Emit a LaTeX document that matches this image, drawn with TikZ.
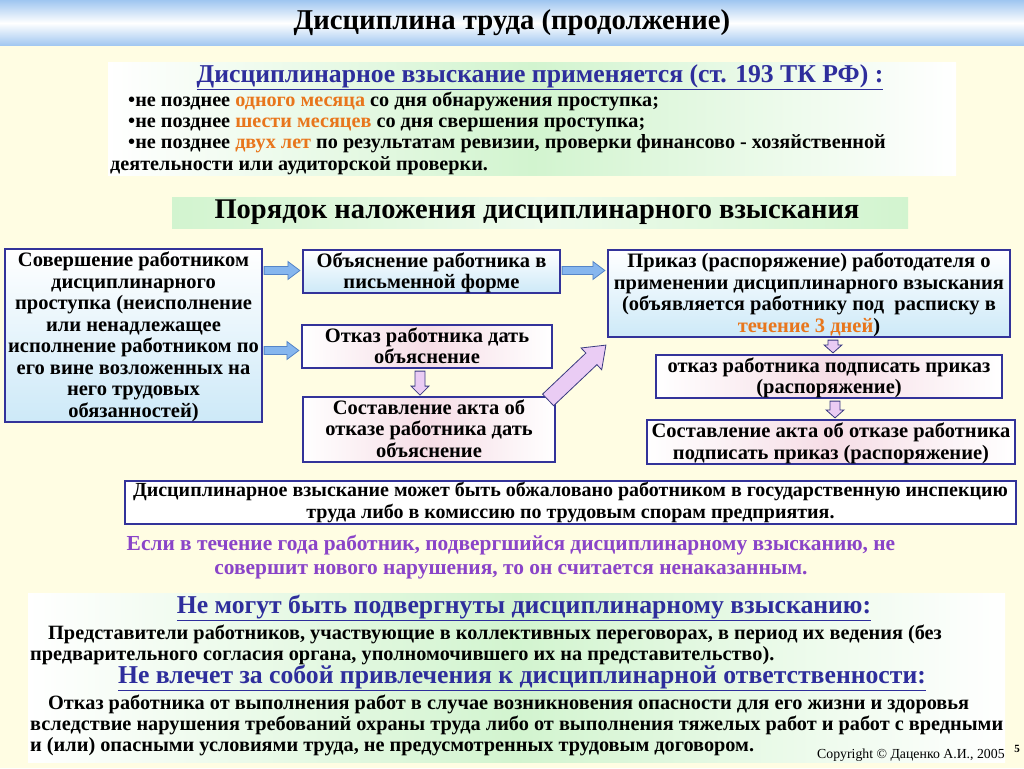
\documentclass[tikz,border=0pt]{standalone}
\usepackage{fontspec}
\setmainfont{Liberation Serif}
\usetikzlibrary{calc}
\definecolor{bg}{HTML}{FFFDE3}
\definecolor{titleblue}{HTML}{9FC6F0}
\definecolor{boxblue}{HTML}{33339A}
\definecolor{lightblue}{HTML}{CDE9F8}
\definecolor{lightpink}{HTML}{F6DDE6}
\definecolor{lightgreen}{HTML}{D2F4CF}
\definecolor{headblue}{HTML}{2E2E9C}
\definecolor{orangetxt}{HTML}{E8761C}
\definecolor{purpletxt}{HTML}{8A44C8}
\definecolor{arrowblue}{HTML}{86B6EE}
\definecolor{arrowblueline}{HTML}{5585C8}
\definecolor{lavender}{HTML}{EACCF4}
\definecolor{lavline}{HTML}{3A3A80}
\newcommand\fsz[2]{\fontsize{#1}{#2}\selectfont}
\newcommand\blockarr[6]{%
  \coordinate (ba@h) at ($(#3)!#6!(#2)$);
  \draw[#1] ($(#2)!#4!90:(#3)$) -- ($(ba@h)!#4!90:(#3)$) -- ($(ba@h)!#5!90:(#3)$) -- (#3)
    -- ($(ba@h)!#5!-90:(#3)$) -- ($(ba@h)!#4!-90:(#3)$) -- ($(#2)!#4!-90:(#3)$) -- cycle;}
\tikzset{
  bluebox/.style={draw=boxblue, line width=2.2pt, top color=white, bottom color=lightblue,
    align=center, inner sep=0pt, text depth=2pt, font=\bfseries\fsz{20.5}{21.5}},
  pinkbox/.style={draw=boxblue, line width=2.2pt, left color=white, right color=white, middle color=lightpink,
    align=center, inner sep=0pt, text depth=2pt, font=\bfseries\fsz{20.5}{21.5}},
  whitebox/.style={draw=boxblue, line width=2.2pt, fill=white,
    align=center, inner sep=0pt, font=\bfseries\fsz{20}{22}},
  barrow/.style={fill=arrowblue, draw=arrowblueline, line width=0.8pt},
  larrow/.style={fill=lavender, draw=lavline, line width=0.8pt},
  bodytxt/.style={inner sep=0pt, anchor=base west, font=\bfseries\fsz{20.2}{21}},
  bottxt/.style={inner sep=0pt, anchor=base west, font=\bfseries\fsz{20.3}{21}},
  headtxt/.style={inner sep=0pt, text=headblue, font=\bfseries\fsz{25.7}{27}},
  greenpanel/.style={left color=white, right color=white, middle color=lightgreen},
}
\begin{document}
\begin{tikzpicture}[x=1pt,y=-1pt]
\useasboundingbox (0,0) rectangle (1024,768);
\fill[bg] (0,0) rectangle (1024,768);
% title bar
\shade[top color=titleblue, bottom color=titleblue, middle color=white] (0,0) rectangle (1024,46);
\node[inner sep=0pt, font=\bfseries\fsz{28.7}{30}] (title) at (512,23) {Дисциплина труда (продолжение)};
% top panel
\shade[greenpanel] (108,62) rectangle (956,175);
\node[headtxt] (h1) at (540,77) {\underline{Дисциплинарное взыскание применяется (ст. 193 ТК РФ) :}};
\node[bodytxt] (b1) at (128,106) {•не позднее \textcolor{orangetxt}{одного месяца} со дня обнаружения проступка;};
\node[bodytxt] (b2) at (128,127) {•не позднее \textcolor{orangetxt}{шести месяцев} со дня свершения проступка;};
\node[bodytxt] (b3) at (128,148) {•не позднее \textcolor{orangetxt}{двух лет} по результатам ревизии, проверки финансово - хозяйственной};
\node[bodytxt] (b4) at (110,170) {деятельности или аудиторской проверки.};
% procedure band
\shade[left color=lightgreen, right color=lightgreen, middle color=white!60!lightgreen] (172,197) rectangle (908,228);
\node[inner sep=0pt, font=\bfseries\fsz{28.5}{30}] (h2) at (537,212) {Порядок наложения дисциплинарного взыскания};
% flow boxes
\node[bluebox, minimum width=257pt, minimum height=173pt] (viol) at (133.5,335.5)
  {Совершение работником\\ дисциплинарного\\ проступка (неисполнение\\ или ненадлежащее\\ исполнение работником по\\ его вине возложенных на\\ него трудовых\\ обязанностей)};
\node[bluebox, minimum width=257pt, minimum height=43pt] (expl) at (431.5,271.5)
  {Объяснение работника в\\ письменной форме};
\node[pinkbox, minimum width=250pt, minimum height=43pt] (refuse) at (427,346.5)
  {Отказ работника дать\\ объяснение};
\node[pinkbox, minimum width=252pt, minimum height=65pt] (akt1) at (429,429.5)
  {Составление акта об\\ отказе работника дать\\ объяснение};
\node[bluebox, minimum width=402pt, minimum height=87pt] (prikaz) at (809,293.5)
  {Приказ (распоряжение) работодателя о\\ применении дисциплинарного взыскания\\ (объявляется работнику под~ расписку в\\ \textcolor{orangetxt}{течение 3 дней})};
\node[pinkbox, minimum width=346pt, minimum height=43pt] (refuse2) at (829,376.5)
  {отказ работника подписать приказ\\ (распоряжение)};
\node[pinkbox, minimum width=368pt, minimum height=44pt] (akt2) at (831,442)
  {Составление акта об отказе работника\\ подписать приказ (распоряжение)};
% blue block arrows
\coordinate (a1s) at ($(viol.east |- expl.west)+(1,-1)$);
\coordinate (a1e) at ($(expl.west |- a1s)+(-2,0)$);
\blockarr{barrow}{a1s}{a1e}{4pt}{9pt}{12pt}
\coordinate (a2s) at ($(viol.east |- refuse.west)+(1,4)$);
\coordinate (a2e) at ($(refuse.west |- a2s)+(-2,0)$);
\blockarr{barrow}{a2s}{a2e}{4pt}{9pt}{12pt}
\coordinate (a3s) at ($(expl.east)+(1,-1)$);
\coordinate (a3e) at ($(prikaz.west |- a3s)+(-2,0)$);
\blockarr{barrow}{a3s}{a3e}{4pt}{9pt}{12pt}
% lavender arrows
\coordinate (d1s) at ($(refuse.south)+(-7,2)$);
\coordinate (d1e) at ($(akt1.north |- d1s)+(-9,24)$);
\blockarr{larrow}{d1s}{d1e}{5pt}{9pt}{9pt}
\coordinate (d2s) at ($(prikaz.south)+(24,2)$);
\coordinate (d2e) at ($(refuse2.north -| d2s)+(0,-1)$);
\blockarr{larrow}{d2s}{d2e}{5pt}{9pt}{8pt}
\coordinate (d3s) at ($(refuse2.south)+(6,2)$);
\coordinate (d3e) at ($(akt2.north -| d3s)+(0,-1)$);
\blockarr{larrow}{d3s}{d3e}{5pt}{9pt}{8pt}
\coordinate (dgs) at ($(akt1.north east)+(-8,4)$);
\coordinate (dge) at ($(prikaz.south west)+(-1,7)$);
\blockarr{larrow}{dgs}{dge}{8pt}{15pt}{20pt}
% appeal box
\node[whitebox, minimum width=891pt, minimum height=43pt] (appeal) at (570.5,502.5)
  {Дисциплинарное взыскание может быть обжаловано работником в государственную инспекцию\\ труда либо в комиссию по трудовым спорам предприятия.};
% purple note
\node[inner sep=0pt, align=center, text=purpletxt, font=\bfseries\fsz{21.4}{24}] (note) at (511,557)
  {Если в течение года работник, подвергшийся дисциплинарному взысканию, не\\ совершит нового нарушения, то он считается ненаказанным.};
% bottom panel
\shade[greenpanel] (28,593) rectangle (1005,762);
\node[headtxt] (h3) at (524,608) {\underline{Не могут быть подвергнуты дисциплинарному взысканию:}};
\node[bottxt] (p1) at (48,639) {Представители работников, участвующие в коллективных переговорах, в период их ведения (без};
\node[bottxt] (p2) at (30,660) {предварительного согласия органа, уполномочившего их на представительство).};
\node[headtxt] (h4) at (522,678) {\underline{Не влечет за собой привлечения к дисциплинарной ответственности:}};
\node[bottxt] (p3) at (48,709) {Отказ работника от выполнения работ в случае возникновения опасности для его жизни и здоровья};
\node[bottxt] (p4) at (30,730) {вследствие нарушения требований охраны труда либо от выполнения тяжелых работ и работ с вредными};
\node[bottxt] (p5) at (30,751) {и (или) опасными условиями труда, не предусмотренных трудовым договором.};
\node[inner sep=0pt, anchor=west, font=\fsz{13.8}{15}] (copy) at (817,755) {Copyright © Даценко А.И., 2005};
\node[inner sep=0pt, font=\bfseries\fsz{11}{12}] (pnum) at (1017,749) {5};
\end{tikzpicture}
\end{document}
